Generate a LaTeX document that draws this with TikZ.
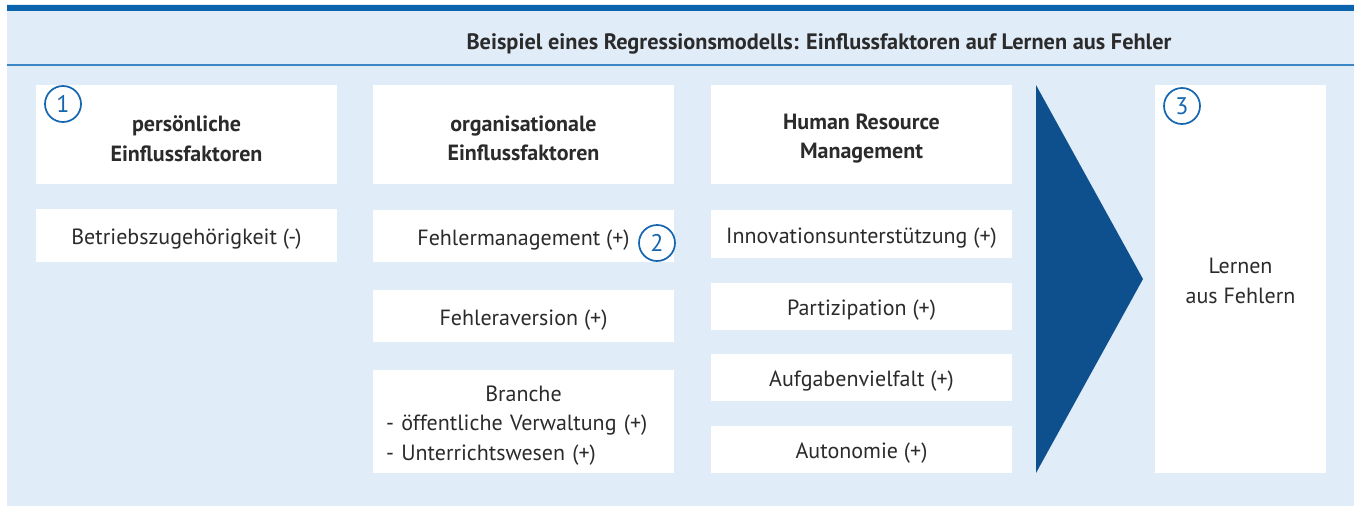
\documentclass[tikz,border=0pt]{standalone}
\usepackage{fontspec}
\setmainfont{PT Sans}
\usepackage{tikz}
\usetikzlibrary{positioning,calc}
\usepackage{xcolor}
\definecolor{Ink}{HTML}{2B2B2B}
\definecolor{Panel}{HTML}{E0ECF8}
\definecolor{Bar}{HTML}{0A63AC}
\definecolor{Rule}{HTML}{3D86C6}
\definecolor{Wedge}{HTML}{0D508D}
\definecolor{Mark}{HTML}{1466B0}

\tikzset{
  factorbox/.style={fill=white,inner sep=0pt,minimum width=301pt,minimum height=#1},
  factorbox/.default=52pt,
  boxtext/.style={text=Ink,align=center,inner sep=0pt,yshift=-4pt,
    font=\fontsize{22}{29.5}\selectfont},
  headtext/.style={boxtext,font=\fontsize{22}{29.5}\selectfont\bfseries},
  numcircle/.style={circle,draw=Mark,line width=1.7pt,minimum size=36pt,inner sep=0pt,
    text=Mark,font=\fontsize{24}{24}\selectfont}
}

\begin{document}
\begin{tikzpicture}[x=1pt,y=-1pt]
\useasboundingbox (0,0) rectangle (1354,506);
% panel and title bar
\fill[Panel] (7,4) rectangle (1354,506);
\fill[Bar] (7,5) rectangle (1354,11);
\draw[Rule,line width=1.3pt] (7,65) -- (1354,65);
\node[text=Ink,font=\fontsize{22.3}{24}\selectfont\bfseries] (title) at (819,44)
  {Beispiel eines Regressionsmodells: Einflussfaktoren auf Lernen aus Fehler};
% column heads
\node[factorbox=99pt] (pers) at (186.5,134.5) {};
\node[factorbox=99pt] (org) at (523.5,134.5) {};
\node[factorbox=99pt] (hrm) at (861.5,134.5) {};
\node[headtext] (t-pers) at (pers.center) {persönliche\\Einflussfaktoren};
\node[headtext] (t-org) at (org.center) {organisationale\\Einflussfaktoren};
\node[headtext] (t-hrm) at (hrm.center) {Human Resource\\Management};
% factors
\node[factorbox=53pt] (zug) at (186.5,235.5) {};
\node[factorbox=52pt] (fmgmt) at (523.5,236) {};
\node[factorbox=52pt] (fav) at (523.5,316) {};
\node[factorbox=103pt] (branche) at (523.5,421.5) {};
\node[factorbox=48pt] (innov) at (861.5,234) {};
\node[factorbox=47pt] (part) at (861.5,306.5) {};
\node[factorbox=47pt] (aufg) at (861.5,377.5) {};
\node[factorbox=47pt] (auto) at (861.5,449.5) {};
\node[boxtext] (t-zug) at (zug.center) {Betriebszugehörigkeit (-)};
\node[boxtext] (t-fmgmt) at (fmgmt.center) {Fehlermanagement (+)};
\node[boxtext] (t-fav) at (fav.center) {Fehleraversion (+)};
\node[boxtext,text width=275pt,align=left] (t-branche) at (branche.center)
  {\makebox[275pt][c]{Branche}\\- öffentliche Verwaltung (+)\\- Unterrichtswesen (+)};
\node[boxtext] (t-innov) at (innov.center) {Innovationsunterstützung (+)};
\node[boxtext] (t-part) at (part.center) {Partizipation (+)};
\node[boxtext] (t-aufg) at (aufg.center) {Aufgabenvielfalt (+)};
\node[boxtext] (t-auto) at (auto.center) {Autonomie (+)};
% outcome
\fill[Wedge] (1036,85) -- (1143,279) -- (1036,473) -- cycle;
\node[factorbox=388pt,minimum width=171pt] (lernen) at (1240.5,279) {};
\node[boxtext,yshift=2pt] (t-lernen) at (lernen.center) {Lernen\\aus Fehlern};
% numbered marks
\node[numcircle] (n1) at (63,104) {1};
\node[numcircle] (n2) at (657,243) {2};
\node[numcircle] (n3) at (1182,106) {3};
\end{tikzpicture}
\end{document}
